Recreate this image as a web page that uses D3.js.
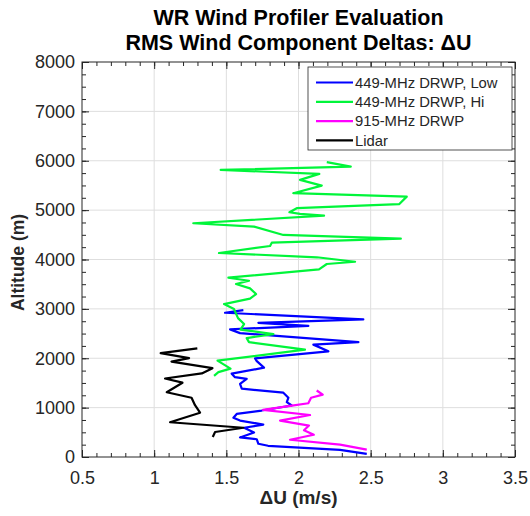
<!DOCTYPE html>
<html>
<head>
<meta charset="UTF-8">
<title>WR Wind Profiler Evaluation</title>
<script src="https://cdn.jsdelivr.net/npm/d3@7"></script>
<style>
  body { margin: 0; background: #fff; }
  text { font-family: "Liberation Sans", Arial, Helvetica, sans-serif; }
</style>
</head>
<body>
<div id="chart"></div>
<script>
// series values (dU in m/s, altitude in m)
var lowDU  = [1.618, 1.491, 2.449, 1.722, 2.068, 1.526, 1.595, 2.415, 2.103, 2.207, 1.699, 1.711, 1.761, 1.537, 1.560, 1.641, 1.595, 1.607, 1.895, 1.930, 1.919, 1.953, 1.745, 1.572, 1.549, 1.595, 1.756, 1.623, 1.692, 1.595, 1.711, 1.722, 1.789, 2.288, 2.473];
var lowAlt = [2976, 2921, 2787, 2718, 2657, 2584, 2509, 2327, 2276, 2140, 1998, 1941, 1809, 1688, 1617, 1582, 1481, 1383, 1302, 1201, 1110, 1043, 941, 872, 795, 738, 657, 592, 495, 396, 359, 268, 227, 146, 65];

var hiDU  = [2.196, 2.362, 1.461, 2.144, 2.011, 2.161, 1.964, 2.750, 2.697, 1.988, 1.937, 2.011, 2.177, 1.271, 1.692, 1.895, 2.709, 1.815, 1.803, 1.449, 2.127, 2.392, 2.196, 2.142, 1.514, 1.657, 1.567, 1.664, 1.706, 1.664, 1.484, 1.553, 1.581, 1.623, 1.598, 1.826, 1.641, 1.657, 2.045, 1.439, 1.529, 1.445, 1.415];
var hiAlt = [5972, 5882, 5815, 5734, 5613, 5497, 5343, 5274, 5120, 5039, 4957, 4923, 4888, 4734, 4665, 4497, 4422, 4341, 4274, 4132, 4045, 3955, 3909, 3801, 3631, 3570, 3503, 3416, 3300, 3209, 3097, 2996, 2813, 2692, 2580, 2489, 2408, 2327, 2174, 1951, 1789, 1718, 1643];

var uhfDU  = [2.126, 2.168, 2.087, 2.068, 1.955, 1.754, 2.080, 1.872, 2.073, 2.038, 2.106, 1.941, 2.288, 2.473];
var uhfAlt = [1347, 1262, 1201, 1089, 1039, 953, 850, 738, 637, 542, 450, 349, 252, 150];

var lidarDU  = [1.299, 1.045, 1.242, 1.120, 1.404, 1.330, 1.075, 1.196, 1.087, 1.259, 1.283, 1.318, 1.110, 1.618, 1.422, 1.406];
var lidarAlt = [2199, 2103, 2002, 1931, 1799, 1692, 1590, 1505, 1312, 1201, 1049, 897, 704, 592, 507, 406];

var seriesNames = ["449-MHz DRWP, Low", "449-MHz DRWP, Hi", "915-MHz DRWP", "Lidar"];
var seriesColors = ["#0000ff", "#00f53a", "#ff00ff", "#000000"];

var xTicks = [0.5, 1, 1.5, 2, 2.5, 3, 3.5];
var yTicks = [0, 1000, 2000, 3000, 4000, 5000, 6000, 7000, 8000];

var W = 530, H = 516;
var margin = { top: 62, right: 15, bottom: 59, left: 82 };
var width = W - margin.left - margin.right,
    height = H - margin.top - margin.bottom;
var axisColor = "#262626";

var svg = d3.select("#chart").append("svg")
    .attr("width", W)
    .attr("height", H);

var g = svg.append("g")
    .attr("transform", "translate(" + margin.left + "," + margin.top + ")");

var x = d3.scaleLinear().domain([0.5, 3.5]).range([0, width]);
var y = d3.scaleLinear().domain([0, 8000]).range([height, 0]);

// grid
g.append("g").selectAll("line")
    .data(xTicks.slice(1, -1))
    .enter().append("line")
    .attr("x1", d => x(d)).attr("x2", d => x(d))
    .attr("y1", 0).attr("y2", height)
    .attr("stroke", "#dedede").attr("stroke-width", 1);
g.append("g").selectAll("line")
    .data(yTicks.slice(1, -1))
    .enter().append("line")
    .attr("y1", d => y(d)).attr("y2", d => y(d))
    .attr("x1", 0).attr("x2", width)
    .attr("stroke", "#dedede").attr("stroke-width", 1);

// axes: ticks pointing inward, minor ticks without labels
function styleAxis(sel) {
  sel.select(".domain").remove();
  sel.selectAll("line").attr("stroke", axisColor);
  sel.selectAll("text")
    .attr("fill", axisColor)
    .style("font-size", "18px");
}
var xMinor = d3.range(5, 36).map(d => d / 10);
var yMinor = d3.range(0, 8001, 250);

g.append("g").attr("transform", "translate(0," + height + ")")
  .call(d3.axisBottom(x).tickValues(xMinor).tickSize(-4).tickFormat(""))
  .call(styleAxis);
g.append("g").attr("transform", "translate(0," + height + ")")
  .call(d3.axisBottom(x).tickValues(xTicks).tickSize(-7).tickPadding(14).tickFormat(d3.format("")))
  .call(styleAxis);
g.append("g")
  .call(d3.axisTop(x).tickValues(xMinor).tickSize(-4).tickFormat(""))
  .call(styleAxis);
g.append("g")
  .call(d3.axisTop(x).tickValues(xTicks).tickSize(-7).tickFormat(""))
  .call(styleAxis);

g.append("g")
  .call(d3.axisLeft(y).tickValues(yMinor).tickSize(-4).tickFormat(""))
  .call(styleAxis);
g.append("g")
  .call(d3.axisLeft(y).tickValues(yTicks).tickSize(-7).tickPadding(7).tickFormat(d3.format("")))
  .call(styleAxis);
g.append("g").attr("transform", "translate(" + width + ",0)")
  .call(d3.axisRight(y).tickValues(yMinor).tickSize(-4).tickFormat(""))
  .call(styleAxis);
g.append("g").attr("transform", "translate(" + width + ",0)")
  .call(d3.axisRight(y).tickValues(yTicks).tickSize(-7).tickFormat(""))
  .call(styleAxis);

// frame
g.append("rect")
    .attr("width", width).attr("height", height)
    .attr("fill", "none").attr("stroke", axisColor).attr("stroke-width", 1);

// lines
var series = [
  { du: lowDU, alt: lowAlt },
  { du: hiDU, alt: hiAlt },
  { du: uhfDU, alt: uhfAlt },
  { du: lidarDU, alt: lidarAlt }
];
var line = d3.line().x(d => x(d[0])).y(d => y(d[1]));

series.forEach(function (s, i) {
  var pts = s.du.map((v, j) => [v, s.alt[j]]);
  g.append("path")
    .datum(pts)
    .attr("d", line)
    .attr("fill", "none")
    .attr("stroke", seriesColors[i])
    .attr("stroke-width", 2.2)
    .attr("stroke-linejoin", "round");
});

// legend
var lg = g.append("g").attr("transform", "translate(" + (308 - margin.left) + "," + (67 - margin.top) + ")");
lg.append("rect")
    .attr("width", 204).attr("height", 83)
    .attr("fill", "#fff").attr("stroke", axisColor).attr("stroke-width", 0.8);
seriesNames.forEach(function (name, i) {
  var yy = 15.5 + i * 19.3;
  lg.append("line")
    .attr("x1", 8).attr("x2", 45)
    .attr("y1", yy).attr("y2", yy)
    .attr("stroke", seriesColors[i]).attr("stroke-width", 2.2);
  lg.append("text")
    .attr("x", 47).attr("y", yy)
    .attr("dy", "0.35em")
    .attr("fill", axisColor)
    .style("font-size", "14.8px")
    .text(name);
});

// titles
var cx = margin.left + width / 2;
svg.append("text")
    .attr("x", cx).attr("y", 25)
    .attr("text-anchor", "middle")
    .style("font-size", "21.5px").style("font-weight", "bold")
    .text("WR Wind Profiler Evaluation");
svg.append("text")
    .attr("x", cx).attr("y", 50)
    .attr("text-anchor", "middle")
    .style("font-size", "21.5px").style("font-weight", "bold")
    .text("RMS Wind Component Deltas: \u0394U");

svg.append("text")
    .attr("x", cx).attr("y", 504)
    .attr("text-anchor", "middle")
    .attr("fill", axisColor)
    .style("font-size", "19px").style("font-weight", "bold")
    .text("\u0394U (m/s)");

svg.append("text")
    .attr("transform", "translate(24," + (margin.top + height / 2 + 3) + ") rotate(-90)")
    .attr("text-anchor", "middle")
    .attr("fill", axisColor)
    .style("font-size", "17.5px").style("font-weight", "bold")
    .text("Altitude (m)");
</script>
</body>
</html>
